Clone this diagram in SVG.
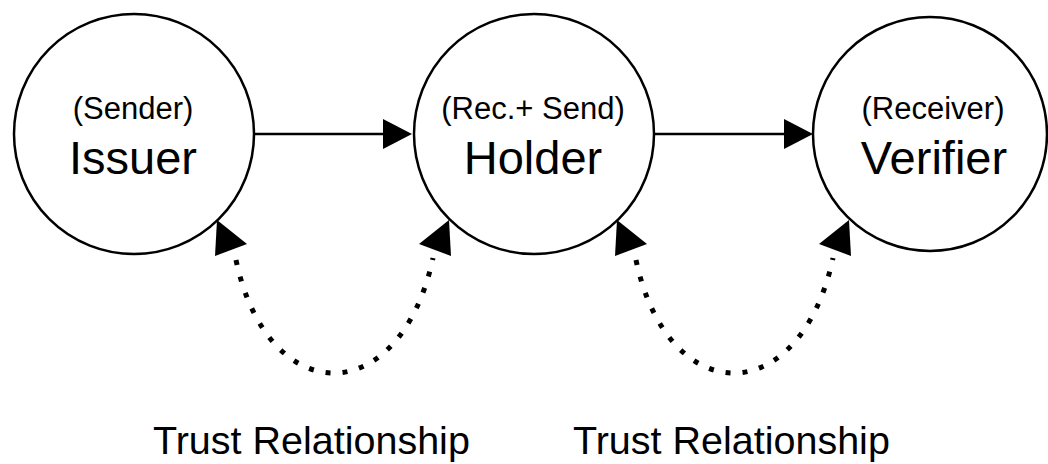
<svg xmlns="http://www.w3.org/2000/svg" width="1048" height="464" viewBox="0 0 1048 464">
<style>
.node{fill:#fff;stroke:#000;stroke-width:2.5}
.sub{font-family:"Liberation Sans",Arial,sans-serif;font-size:31px;fill:#000;text-anchor:middle}
.main{font-family:"Liberation Sans",Arial,sans-serif;font-size:47px;fill:#000;text-anchor:middle}
.lbl{font-family:"Liberation Sans",Arial,sans-serif;font-size:39.5px;fill:#000}
.edge{fill:none;stroke:#000;stroke-width:2.5}
.dot{fill:none;stroke:#000;stroke-width:5;stroke-dasharray:5 12}
.head{fill:#000;stroke:none}
</style>
<rect width="1048" height="464" fill="#fff"/>
<g id="connectors">
<line class="edge" x1="255" y1="134" x2="385" y2="134"/>
<polygon class="head" points="412,134 383,119 383,149"/>
<line class="edge" x1="654" y1="134" x2="785" y2="134"/>
<polygon class="head" points="813,134 784,119 784,149"/>
<path class="dot" d="M236,260 C268,411 400,411 433,258"/>
<polygon class="head" points="217,220 247,244 215,256"/>
<polygon class="head" points="449,220 419,244 451,256"/>
<path class="dot" d="M636,260 C668,411 800,411 833,258"/>
<polygon class="head" points="617,220 647,244 615,256"/>
<polygon class="head" points="849,220 819,244 851,256"/>
</g>
<g id="issuer">
<circle class="node" cx="134" cy="134" r="120"/>
<text class="sub" x="133" y="119">(Sender)</text>
<text class="main" x="133" y="174">Issuer</text>
</g>
<g id="holder">
<circle class="node" cx="534" cy="134" r="120"/>
<text class="sub" x="533" y="119">(Rec.+ Send)</text>
<text class="main" x="533" y="174">Holder</text>
</g>
<g id="verifier">
<circle class="node" cx="930" cy="134" r="117"/>
<text class="sub" x="933" y="119">(Receiver)</text>
<text class="main" x="934" y="174">Verifier</text>
</g>
<g id="labels">
<text class="lbl" x="153" y="454">Trust Relationship</text>
<text class="lbl" x="573" y="454">Trust Relationship</text>
</g>
</svg>
